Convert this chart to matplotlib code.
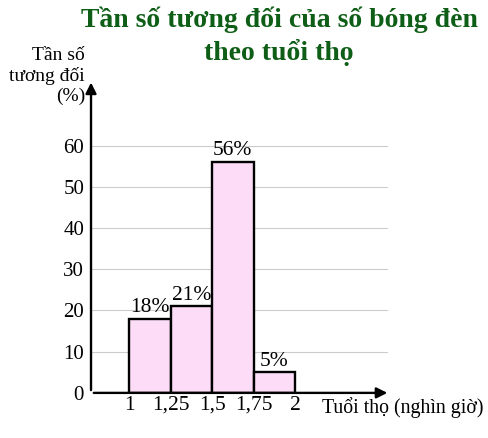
import matplotlib
matplotlib.use("Agg")
import matplotlib.pyplot as plt

edges = [1, 1.25, 1.5, 1.75, 2]
values = [18, 21, 56, 5]
bar_labels = ["18%", "21%", "56%", "5%"]
yticks = [0, 10, 20, 30, 40, 50, 60]
xtick_labels = ["1", "1,25", "1,5", "1,75", "2"]
title = "Tần số tương đối của số bóng đèn\ntheo tuổi thọ"
ylabel = "Tần số\ntương đối\n(%)"
xlabel = "Tuổi thọ (nghìn giờ)"

plt.rcParams['font.family'] = ['Liberation Serif', 'DejaVu Serif']

fig = plt.figure(figsize=(4.88, 4.38), dpi=100)
ax = fig.add_axes([0.1865, 0.103, 0.613, 0.715])
ax.set_xlim(0.771, 2.572)
ax.set_ylim(0, 76)

for s in ax.spines.values():
    s.set_visible(False)

for t in yticks[1:]:
    ax.axhline(t, xmin=0, xmax=0.99, color="#cccccc", lw=0.8, zorder=0)

lefts = edges[:-1]
widths = [edges[i+1] - edges[i] for i in range(len(values))]
bars = ax.bar(lefts, values, width=widths, align="edge", color="#fcdcf6",
              edgecolor="black", linewidth=1.7, zorder=2)
for b, lab in zip(bars, bar_labels):
    ax.text(b.get_x() + b.get_width()/2, b.get_height() + 0.4, lab,
            ha="center", va="bottom", fontsize=15.5, zorder=3)

ax.annotate("", xy=(1.0, 0), xytext=(0, 0), xycoords="axes fraction",
            arrowprops=dict(arrowstyle="-|>", color="black", lw=1.7,
                            mutation_scale=16), zorder=4)
ax.annotate("", xy=(0, 1.0), xytext=(0, 0), xycoords="axes fraction",
            arrowprops=dict(arrowstyle="-|>", color="black", lw=1.7,
                            mutation_scale=16), zorder=4)

ax.set_yticks(yticks)
ax.set_yticklabels([str(v) for v in yticks], fontsize=15)
ax.set_xticks(edges)
ax.set_xticklabels(xtick_labels, fontsize=15.5)
ax.tick_params(axis="y", length=0, pad=5)
ax.tick_params(axis="x", length=0, pad=2)

fig.text(0.572, 0.985, title, ha="center", va="top", fontsize=20,
         fontweight="bold", color="#0f5e17", linespacing=1.3)
fig.text(0.174, 0.893, ylabel, ha="right", va="top", fontsize=14,
         linespacing=1.2)
fig.text(0.66, 0.069, xlabel, ha="left", va="center", fontsize=14.3)

fig.savefig("out.png", dpi=100)
